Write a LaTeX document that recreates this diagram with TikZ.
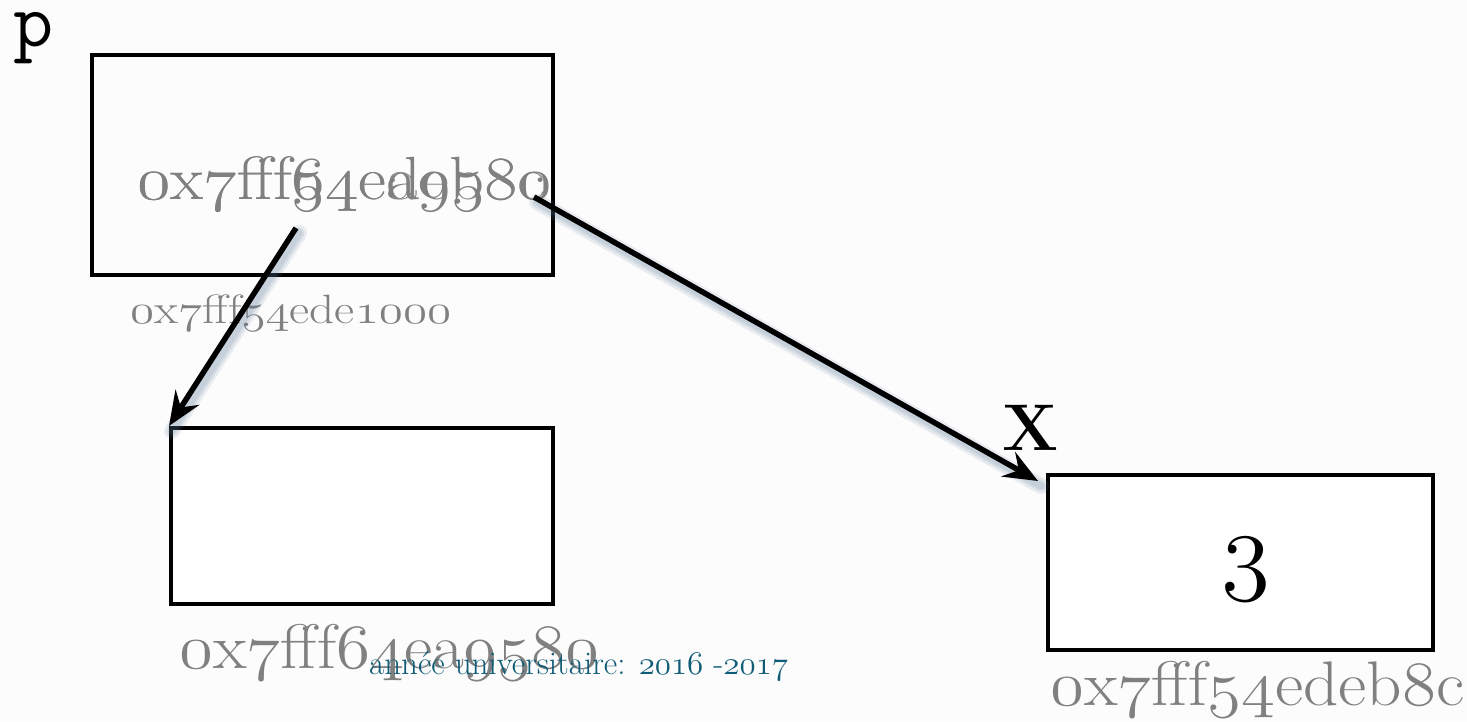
\RequirePackage{fix-cm}
\documentclass[tikz,border=0pt]{standalone}
\usepackage{graphicx}
\usetikzlibrary{arrows.meta,calc}
\definecolor{addrgray}{RGB}{128,128,128}
\definecolor{footteal}{RGB}{16,92,118}
\definecolor{bgwhite}{RGB}{252,252,252}
\definecolor{shadowblue}{RGB}{90,120,150}
\newcommand\os[1]{{\usefont{OML}{cmm}{m}{it}#1}}
\tikzset{
  membox/.style={draw=black, line width=4pt, rectangle, inner sep=0pt},
  addr/.style={text=addrgray, inner sep=0pt, anchor=base west},
  ptr/.style={draw=black, line width=5.5pt, -{Stealth[length=34pt,width=28pt,inset=12pt]}},
  ptrshadow/.style={draw=shadowblue, line width=#1, opacity=0.12, line cap=round},
}
\begin{document}
\begin{tikzpicture}[x=1pt,y=-1pt]
\fill[bgwhite] (0,0) rectangle (1467,721);
\useasboundingbox (0,0) rectangle (1467,721);

% boxes
\node[membox, minimum width=461pt, minimum height=220pt] (b1) at (322.5,165) {};
\node[membox, fill=white, minimum width=382pt, minimum height=176pt] (b2) at (362,516) {};
\node[membox, fill=white, minimum width=385pt, minimum height=175pt] (b3) at (1240.5,562.5) {};

% labels
\node[inner sep=0pt, anchor=base west, font=\ttfamily\fontsize{78}{80}\selectfont] (pl) at (13,46) {p};
\node[inner sep=0pt, anchor=base, font=\bfseries\fontsize{66}{70}\selectfont] (xl) at (1031,450) {X};
\node[inner sep=0pt, anchor=base, font=\fontsize{100}{110}\selectfont] (val) at (1246,581) {\os{3}};

\node[addr, font=\fontsize{61}{70}\selectfont] (t1) at (137,199) {\scalebox{1.12}[1]{\os{0}x\os{7}fff\os{64}ea\os{9580}}};
\node[addr, font=\fontsize{61}{70}\selectfont] (t2) at (137,199) {\scalebox{1.12}[1]{\os{0}x\os{7}fff\os{54}edeb\os{8}c}};
\node[addr, font=\fontsize{41}{50}\selectfont] (l1) at (130,323) {\scalebox{1.2}[1]{\os{0}x\os{7}fff\os{54}ede\os{1000}}};
\node[addr, font=\fontsize{63}{70}\selectfont] (l2) at (179,668) {\scalebox{1.1}[1]{\os{0}x\os{7}fff\os{64}ea\os{9580}}};
\node[addr, font=\fontsize{63}{70}\selectfont] (l3) at (1050,705) {\scalebox{1.1}[1]{\os{0}x\os{7}fff\os{54}edeb\os{8}c}};
\node[inner sep=0pt, anchor=base west, text=footteal, font=\fontsize{33}{36}\selectfont] (foot) at (369,674) {année universitaire: \os{2016} -\os{2017}};

% pointers
\coordinate (a1s) at (296,228);
\coordinate (a2s) at (534,197);
\coordinate (a2e) at ($(b3.north west)+(-8,8)$);
\begin{scope}[transform canvas={xshift=3pt,yshift=-5pt}]
  \foreach \w in {16pt,11pt,7pt}{
    \draw[ptrshadow=\w] (a1s) -- (b2.north west);
    \draw[ptrshadow=\w] (a2s) -- (a2e);
  }
\end{scope}
\draw[ptr] (a1s) -- (b2.north west);
\draw[ptr] (a2s) -- (a2e);
\end{tikzpicture}
\end{document}
